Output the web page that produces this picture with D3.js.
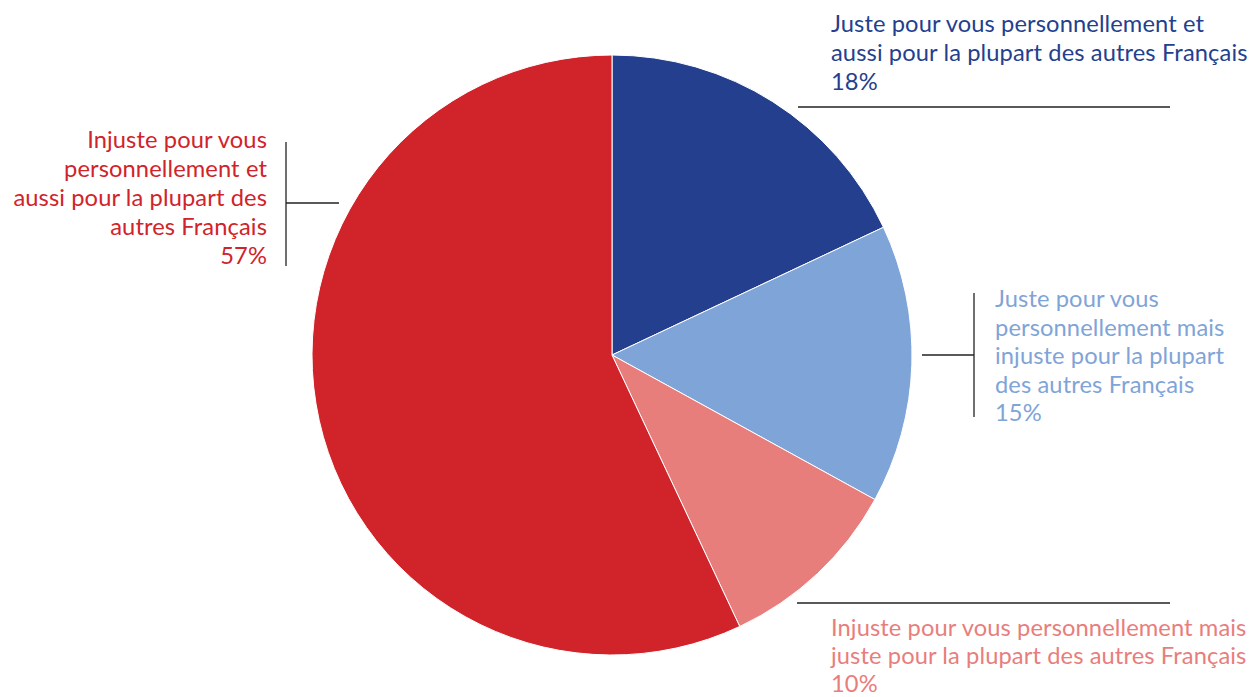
<!DOCTYPE html>
<html>
<head>
<meta charset="utf-8">
<script src="https://cdn.jsdelivr.net/npm/d3@7"></script>
<style>
  html, body { margin: 0; padding: 0; background: #fff; }
  svg { display: block; }
  text { font-family: Lato, "Open Sans", sans-serif; }
</style>
</head>
<body>
<svg id="chart" width="1258" height="697"></svg>
<script>
const categories = [
  "Juste pour vous personnellement et aussi pour la plupart des autres Français",
  "Juste pour vous personnellement mais injuste pour la plupart des autres Français",
  "Injuste pour vous personnellement mais juste pour la plupart des autres Français",
  "Injuste pour vous personnellement et aussi pour la plupart des autres Français"
];
const values = [18, 15, 10, 57];
const colors = ["#243f8e", "#7fa4d7", "#e87e7c", "#d1232a"];
const labelLines = [
  ["Juste pour vous personnellement et", "aussi pour la plupart des autres Français", "18%"],
  ["Juste pour vous", "personnellement mais", "injuste pour la plupart", "des autres Français", "15%"],
  ["Injuste pour vous personnellement mais", "juste pour la plupart des autres Français", "10%"],
  ["Injuste pour vous", "personnellement et", "aussi pour la plupart des", "autres Français", "57%"]
];

const svg = d3.select("#chart");
const cx = 612, cy = 355, r = 300;

const pie = d3.pie().sort(null).value(d => d.value);
const arcs = pie(values.map((v, i) => ({ value: v, i })));
const arc = d3.arc().innerRadius(0).outerRadius(r);

const g = svg.append("g").attr("transform", `translate(${cx},${cy})`);
g.selectAll("path").data(arcs).join("path")
  .attr("d", arc)
  .attr("fill", d => colors[d.data.i])
  .attr("stroke", "#fff")
  .attr("stroke-width", 1);

// label layout (positions only)
const layout = [
  { x: 831, y: 32, anchor: "start", lh: 29 },
  { x: 995, y: 307, anchor: "start", lh: 28.5 },
  { x: 831, y: 636, anchor: "start", lh: 28 },
  { x: 267, y: 148, anchor: "end", lh: 29 }
];
labelLines.forEach((lines, i) => {
  const L = layout[i];
  const t = svg.append("text")
    .attr("text-anchor", L.anchor)
    .attr("fill", colors[i])
    .style("font-size", "23.7px")
    .style("letter-spacing", "0.1px");
  lines.forEach((s, j) => {
    t.append("tspan").attr("x", L.x).attr("y", L.y + j * L.lh).text(s);
  });
});

// leader lines
const leaders = [
  [[798, 107], [1170, 107]],
  [[922, 355], [974, 355]],
  [[974, 293], [974, 417]],
  [[797, 603], [1170, 603]],
  [[286, 142], [286, 266]],
  [[286, 203], [339, 203]]
];
svg.append("g").selectAll("line").data(leaders).join("line")
  .attr("x1", d => d[0][0]).attr("y1", d => d[0][1])
  .attr("x2", d => d[1][0]).attr("y2", d => d[1][1])
  .attr("stroke", "#222")
  .attr("stroke-width", 1.3);
</script>
</body>
</html>
